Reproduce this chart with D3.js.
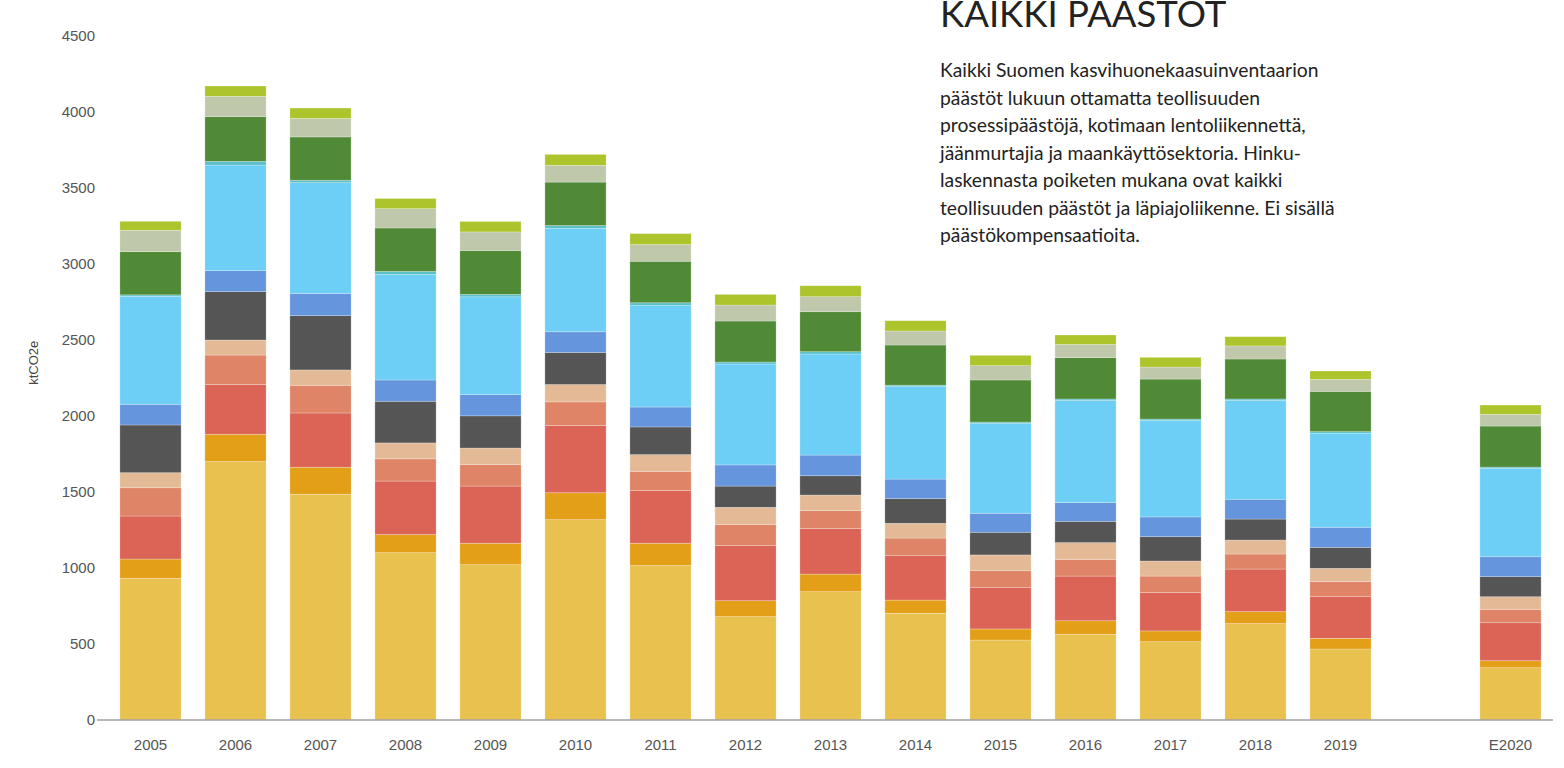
<!DOCTYPE html>
<html>
<head>
<meta charset="utf-8">
<script src="https://cdn.jsdelivr.net/npm/d3@7"></script>
<style>
  body { margin: 0; background: #fff; }
</style>
</head>
<body>
<script>
// categories on the x axis, one empty slot between 2019 and E2020
const years = ["2005", "2006", "2007", "2008", "2009", "2010", "2011", "2012",
    "2013", "2014", "2015", "2016", "2017", "2018", "2019", "", "E2020"];
const yTicks = [0, 500, 1000, 1500, 2000, 2500, 3000, 3500, 4000, 4500];

// stacked segments, bottom to top (ktCO2e), null = no bar
const yellow = [932, 1700, 1485, 1101, 1022, 1318, 1016, 680, 844, 702, 526, 564, 515, 634, 467, null, 344];
const orange = [127, 180, 178, 119, 141, 177, 147, 105, 116, 87, 73, 89, 71, 79, 70, null, 46];
const red = [283, 327, 357, 352, 376, 443, 346, 362, 299, 292, 274, 294, 252, 280, 277, null, 250];
const salmon = [186, 194, 182, 146, 142, 155, 127, 140, 118, 116, 109, 110, 109, 99, 96, null, 88];
const peach = [99, 99, 101, 105, 108, 114, 110, 112, 103, 97, 104, 110, 99, 92, 88, null, 83];
const darkGray = [314, 318, 357, 274, 212, 211, 182, 140, 127, 162, 149, 140, 160, 138, 138, null, 132];
const blue = [136, 138, 146, 140, 140, 136, 131, 139, 136, 129, 125, 123, 130, 130, 132, null, 131];
const lightBlue = [710, 695, 729, 694, 643, 681, 667, 664, 665, 608, 590, 672, 634, 650, 619, null, 581];
const teal = [10, 24, 16, 20, 16, 18, 19, 13, 15, 10, 10, 10, 10, 10, 10, null, 9];
const darkGreen = [284, 294, 285, 286, 289, 286, 273, 270, 263, 264, 277, 272, 263, 263, 265, null, 270];
const grayGreen = [141, 134, 122, 127, 122, 110, 110, 105, 99, 92, 94, 87, 79, 86, 79, null, 77];
const lime = [59, 68, 68, 67, 69, 72, 72, 70, 72, 68, 68, 62, 64, 61, 55, null, 61];

const seriesNames = ["yellow", "orange", "red", "salmon", "peach", "darkGray",
    "blue", "lightBlue", "teal", "darkGreen", "grayGreen", "lime"];
const seriesValues = [yellow, orange, red, salmon, peach, darkGray,
    blue, lightBlue, teal, darkGreen, grayGreen, lime];
const seriesColors = ["#e9c14f", "#e39f18", "#db6456", "#df8466", "#e4ba96", "#555555",
    "#6495dd", "#6dcff5", "#5bbfc9", "#518a36", "#bfc8ab", "#adc42c"];

const titleText = "KAIKKI PÄÄSTÖT";
const paragraph = [
    "Kaikki Suomen kasvihuonekaasuinventaarion",
    "päästöt lukuun ottamatta teollisuuden",
    "prosessipäästöjä, kotimaan lentoliikennettä,",
    "jäänmurtajia ja maankäyttösektoria. Hinku-",
    "laskennasta poiketen mukana ovat kaikki",
    "teollisuuden päästöt ja läpiajoliikenne. Ei sisällä",
    "päästökompensaatioita."
];

const width = 1564;
const height = 768;
const marginTop = 36;
const marginBottom = 48;

// build the table for d3.stack
const table = years.map((year, i) => {
    const row = { year: year };
    seriesNames.forEach((name, j) => row[name] = seriesValues[j][i] ?? 0);
    return row;
});

const stacked = d3.stack().keys(seriesNames)(table);

const x = d3.scaleBand()
    .domain(years)
    .range([108, 1553])
    .paddingInner(0.28)
    .paddingOuter(0.14);

const y = d3.scaleLinear()
    .domain([0, 4500])
    .range([height - marginBottom, marginTop]);

const color = d3.scaleOrdinal().domain(seriesNames).range(seriesColors);

const svg = d3.create("svg")
    .attr("width", width)
    .attr("height", height)
    .attr("viewBox", [0, 0, width, height])
    .style("font-family", "'Liberation Sans', Arial, sans-serif");

// bars
svg.append("g")
    .selectAll("g")
    .data(stacked)
    .join("g")
    .attr("fill", d => color(d.key))
    .selectAll("rect")
    .data(d => d.filter(s => s[1] - s[0] > 0))
    .join("rect")
    .attr("x", d => x(d.data.year))
    .attr("y", d => y(d[1]))
    .attr("height", d => y(d[0]) - y(d[1]))
    .attr("width", x.bandwidth())
    .attr("stroke", "#fff")
    .attr("stroke-opacity", 0.35)
    .attr("stroke-width", 0.7);

// y axis, labels only
const yAxis = svg.append("g")
    .attr("transform", "translate(95,0)")
    .call(d3.axisLeft(y).tickValues(yTicks).tickFormat(d3.format("d")).tickSize(0).tickPadding(0));
yAxis.select(".domain").remove();
yAxis.selectAll("text")
    .attr("fill", "#555")
    .style("font-size", "15px");

// x axis
const xAxis = svg.append("g")
    .attr("transform", `translate(0,${height - marginBottom})`)
    .call(d3.axisBottom(x).tickSize(0).tickPadding(19));
xAxis.select(".domain").remove();
xAxis.selectAll("text")
    .attr("fill", "#555")
    .style("font-size", "15px");

svg.append("line")
    .attr("x1", 97)
    .attr("x2", 1553)
    .attr("y1", y(0))
    .attr("y2", y(0))
    .attr("stroke", "#a0a0a0")
    .attr("stroke-width", 1.5);

// y axis title
svg.append("text")
    .attr("transform", `translate(38,${y(2350)}) rotate(-90)`)
    .attr("text-anchor", "middle")
    .attr("fill", "#444")
    .style("font-size", "13px")
    .text("ktCO2e");

// heading and description
svg.append("text")
    .attr("x", 940)
    .attr("y", 27)
    .attr("fill", "#222")
    .style("font-family", "Lato, sans-serif")
    .style("font-size", "36.5px")
    .text(titleText);

svg.append("g")
    .selectAll("text")
    .data(paragraph)
    .join("text")
    .attr("x", 940)
    .attr("y", (d, i) => 77 + i * 27.5)
    .attr("fill", "#222")
    .style("font-family", "Lato, sans-serif")
    .style("font-size", "19.3px")
    .text(d => d);

document.body.appendChild(svg.node());
</script>
</body>
</html>
